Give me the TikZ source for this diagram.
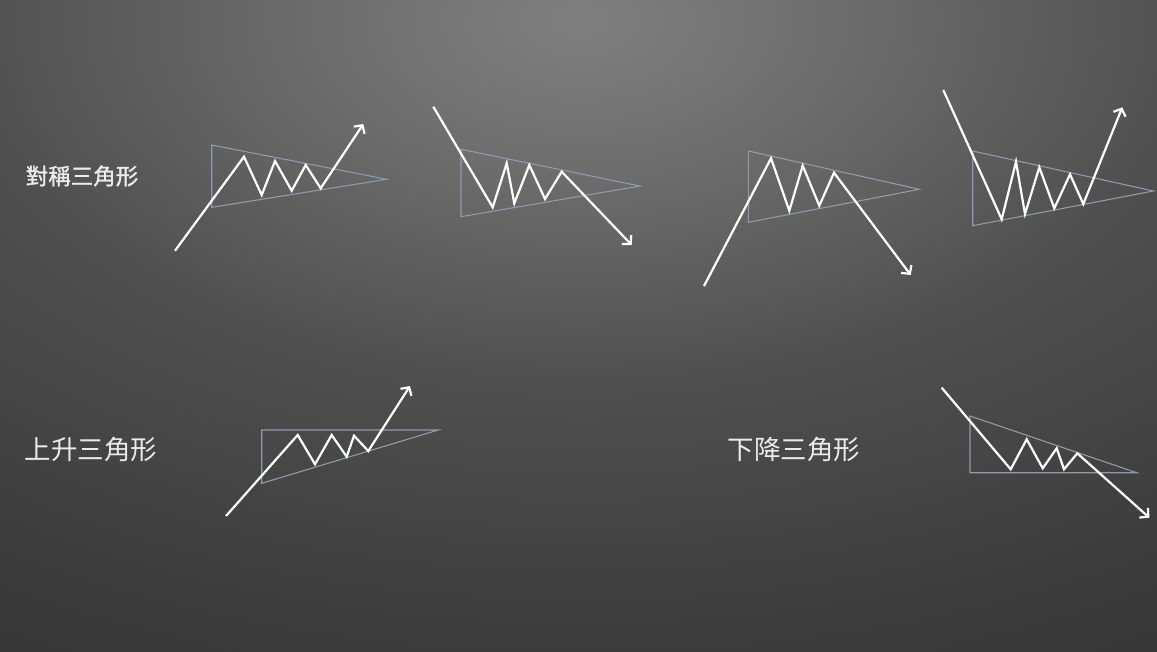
\documentclass[tikz,border=0pt]{standalone}
\usepackage{fontspec}
\usepackage{tikz}
\usetikzlibrary{arrows.meta}
\newfontfamily\cjk{Noto Sans CJK TC}
\newfontfamily\cjkheavy{Noto Sans CJK TC}[FakeBold=1.2]
\definecolor{bgA}{gray}{0.50}
\definecolor{bgB}{gray}{0.43}
\definecolor{bgC}{gray}{0.31}
\definecolor{bgD}{gray}{0.23}
\definecolor{bgE}{gray}{0.17}
\definecolor{edgeblue}{RGB}{142,154,176}
\definecolor{labelwhite}{RGB}{236,236,236}
\pgfdeclareradialshading{bgglow}{\pgfpoint{0bp}{0bp}}{color(0bp)=(bgA); color(5.7bp)=(bgB); color(14.1bp)=(bgC); color(24.7bp)=(bgD); color(35.4bp)=(bgE); color(50bp)=(bgE)}

\begin{document}
\begin{tikzpicture}[x=1pt,y=-1pt,
	edge/.style={draw=edgeblue, line width=1.1pt},
	move/.style={draw=white, line width=2.2pt, -{Straight Barb[length=6pt,width=13pt]}},
	patname/.style={text=labelwhite, inner sep=0pt}]
	\useasboundingbox (0,0) rectangle (1157,651);
	\begin{scope}
		\clip (0,0) rectangle (1157,651);
		\shade[shading=bgglow] (-520,-630) rectangle (1680,670);
	\end{scope}
	% labels
	\node[patname, font=\cjkheavy\fontsize{22.5}{22.5}\selectfont] (sym) at (82,176) {對稱三角形};
	\node[patname, font=\cjk\fontsize{26.5}{26.5}\selectfont] (asc) at (91,449) {上升三角形};
	\node[patname, font=\cjk\fontsize{26.5}{26.5}\selectfont] (desc) at (794,449) {下降三角形};
	% symmetric, up
	\draw [edge] (211.7,145) -- (211.7,207.3) -- (386.7,179.3) -- cycle;
	\draw [move] (175,250.7) -- (244,156.7) -- (261.7,195) -- (275,161) -- (291.7,190.7) -- (305.7,165) -- (320.7,188.3) -- (363.3,124);
	% symmetric, down
	\draw [edge] (461,149.3) -- (461,216.7) -- (640,186) -- cycle;
	\draw [move] (433.3,106.7) -- (492.7,207.3) -- (506.7,163.3) -- (514.3,203.3) -- (529.3,165) -- (545,199) -- (561.7,171.7) -- (631.7,245);
	% symmetric, reversal down
	\draw [edge] (748.3,151) -- (748.3,222.3) -- (919.3,189.3) -- cycle;
	\draw [move] (704,286) -- (771,158.3) -- (789.3,210.7) -- (802.7,165.7) -- (819.3,205.7) -- (834,172.7) -- (910.7,275);
	% symmetric, reversal up
	\draw [edge] (972.7,151) -- (972.7,225.7) -- (1153.3,191) -- cycle;
	\draw [move] (943.3,90) -- (1001.7,219.3) -- (1016,161.7) -- (1025,214) -- (1039.3,167.3) -- (1054.3,208.3) -- (1070,174.3) -- (1083.3,204) -- (1122.3,107.3);
	% ascending
	\draw [edge] (261.7,430) -- (261.7,483.3) -- (438.3,430) -- cycle;
	\draw [move] (226,516) -- (297.7,435) -- (315,464.3) -- (331.7,435) -- (346.7,456.7) -- (354,435.7) -- (368.3,451) -- (410,386);
	% descending
	\draw [edge] (970,416) -- (970,472.7) -- (1136.7,472.7) -- cycle;
	\draw [move] (941.7,387.7) -- (1010.7,469.3) -- (1026.7,439.3) -- (1042.7,468.3) -- (1056.7,448.3) -- (1064,469.3) -- (1077.3,453.3) -- (1149.3,517.7);
\end{tikzpicture}
\end{document}
